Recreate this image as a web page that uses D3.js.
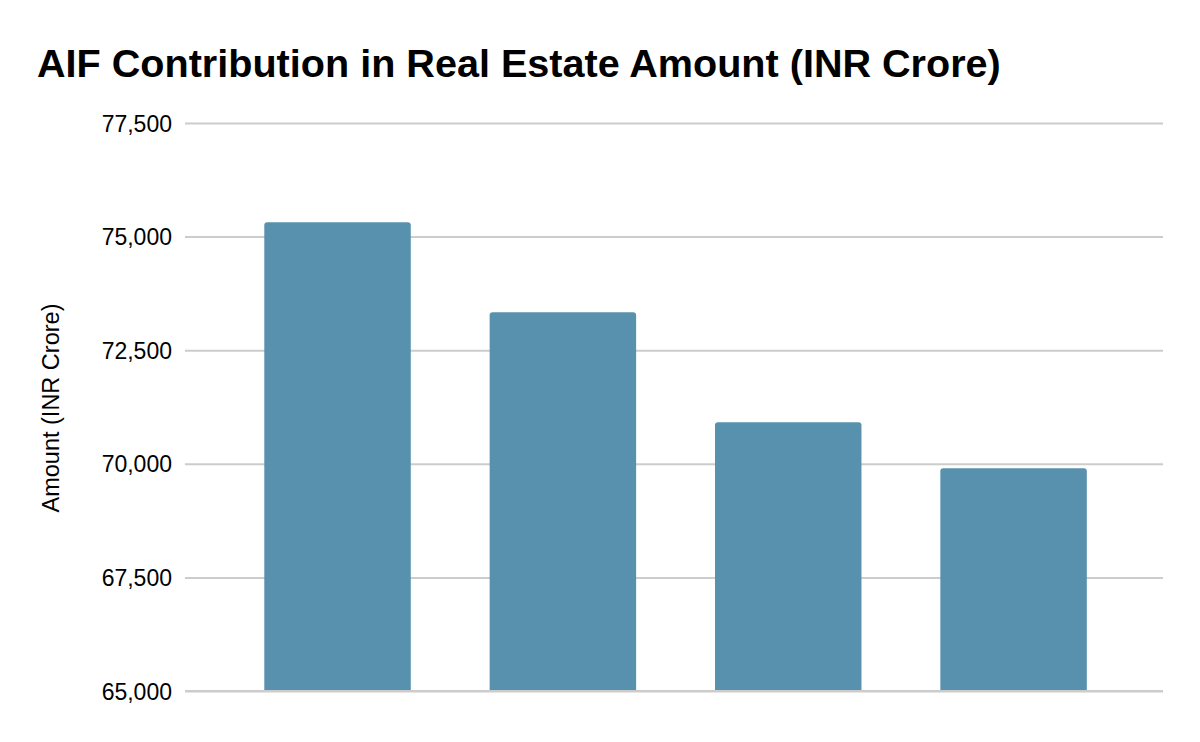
<!DOCTYPE html>
<html>
<head>
<meta charset="utf-8">
<script src="https://cdn.jsdelivr.net/npm/d3@7"></script>
<style>
    body { margin: 0; background: #fff; }
    text { font-family: "Liberation Sans", Arial, sans-serif; fill: #000; }
    .grid line { stroke: #cccccc; stroke-width: 2; }
    .grid .domain { display: none; }
    .bar { fill: #5891ae; }
</style>
</head>
<body>
<div id="chart"></div>
<script>
// values (no category labels are shown in the original)
var categories = ["1", "2", "3", "4"];
var amounts = [75315, 73335, 70915, 69900];
var yTicks = [65000, 67500, 70000, 72500, 75000, 77500];

var width = 1200
    , height = 742
    , margin = {top: 123, right: 37, bottom: 51, left: 185}
    ;

var data = categories.map(function(c, i) {
    return {cat: c, value: amounts[i]};
});

var svg = d3.select("#chart")
    .append("svg")
    .attr("width", width)
    .attr("height", height);

var w = width - margin.left - margin.right
    , h = height - margin.top - margin.bottom
    , g = svg.append("g").attr("transform", "translate(" + margin.left + "," + margin.top + ")");

var x = d3.scaleBand()
    .domain(categories)
    .range([0, w])
    .paddingInner(0.35)
    .paddingOuter(0.345)
    .align(0.51);

var y = d3.scaleLinear()
    .domain([65000, 77500])
    .range([h, 0]);

// gridlines + labels
var yAxis = d3.axisLeft(y)
    .tickValues(yTicks)
    .tickSizeInner(-w)
    .tickSizeOuter(0)
    .tickPadding(13)
    .tickFormat(d3.format(","));

var gY = g.append("g")
    .attr("class", "grid")
    .call(yAxis);

gY.selectAll("text")
    .style("font-size", "23px")
    .attr("dy", "0.35em");

// bars, rounded on top only
var r = 3;
g.selectAll(".bar")
    .data(data)
    .enter()
    .append("path")
    .attr("class", "bar")
    .attr("d", function(d) {
        var x0 = x(d.cat), x1 = x0 + x.bandwidth(), y0 = y(d.value), yb = y(65000);
        return "M" + x0 + "," + yb
            + "V" + (y0 + r)
            + "Q" + x0 + "," + y0 + " " + (x0 + r) + "," + y0
            + "H" + (x1 - r)
            + "Q" + x1 + "," + y0 + " " + x1 + "," + (y0 + r)
            + "V" + yb + "Z";
    });

// baseline over the bars
g.append("line")
    .attr("x1", 0)
    .attr("x2", w)
    .attr("y1", y(65000))
    .attr("y2", y(65000))
    .style("stroke", "#cccccc")
    .style("stroke-width", 2);

svg.append("text")
    .attr("x", 37)
    .attr("y", 77)
    .style("font-size", "39.6px")
    .style("font-weight", "bold")
    .text("AIF Contribution in Real Estate Amount (INR Crore)");

svg.append("text")
    .attr("transform", "translate(59," + (margin.top + h / 2 + 1) + ") rotate(-90)")
    .attr("text-anchor", "middle")
    .style("font-size", "23.5px")
    .text("Amount (INR Crore)");
</script>
</body>
</html>
